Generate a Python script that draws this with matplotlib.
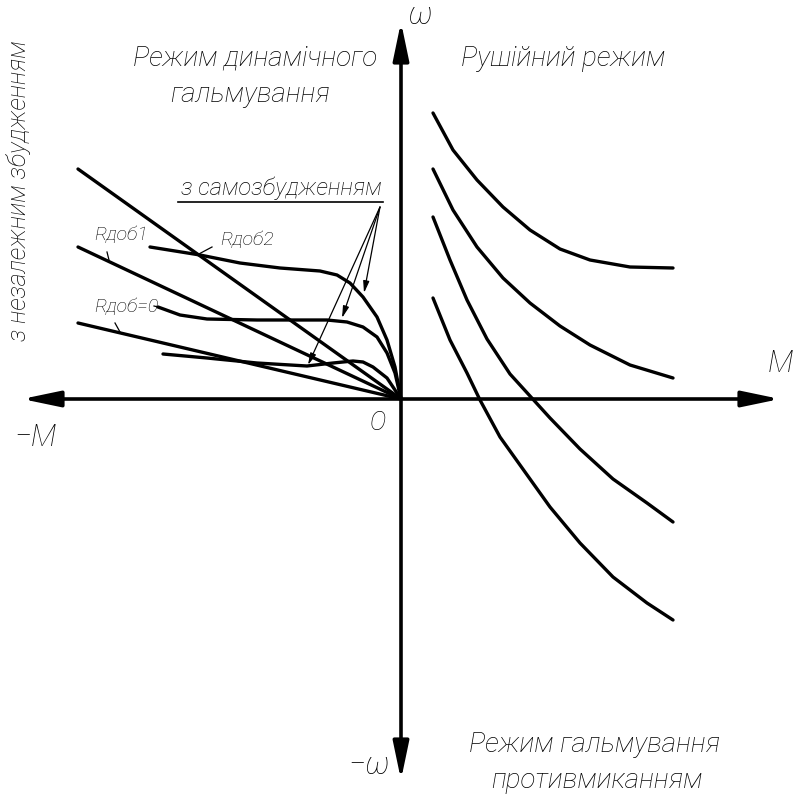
import matplotlib.pyplot as plt

plt.rcParams['font.family'] = ['Roboto', 'DejaVu Sans']
plt.rcParams['font.style'] = 'italic'
plt.rcParams['font.weight'] = 'light'

# Axis extents (torque M, speed omega) in drawing units
M_LEFT, M_RIGHT = -379, 379
W_TOP, W_BOTTOM = 377, -381

# Motor mode: four artificial characteristics
M_motor = [32, 52, 76, 102, 129, 159, 189, 229, 272]
w_motor_a = [286, 249, 219, 192, 169, 150, 139, 132, 131]
w_motor_b = [230, 189, 152, 121, 96, 73, 54, 34, 21]
M_motor_c = [32, 49, 66, 86, 109, 129, 149, 179, 212, 246, 272]
w_motor_c = [182, 139, 99, 60, 25, 3, -19, -50, -80, -104, -123]
M_motor_d = [32, 49, 66, 79, 99, 129, 149, 179, 212, 246, 272]
w_motor_d = [101, 59, 26, -1, -38, -80, -108, -144, -178, -204, -221]

# Dynamic braking, separate excitation: straight lines through origin
M_indep = [-323, 0]
w_indep_1 = [230, 0]
w_indep_2 = [152, 0]
w_indep_3 = [76, 0]

# Dynamic braking, self excitation
M_self_2 = [-251, -201, -161, -121, -81, -64, -51, -38, -24, -14, -6, 0]
w_self_2 = [152, 144, 136, 131, 128, 124, 116, 102, 82, 59, 32, 0]
M_self_0 = [-243, -221, -194, -144, -74, -54, -38, -24, -14, -6, 0]
w_self_0 = [92, 84, 80, 79, 79, 77, 72, 62, 46, 26, 0]
M_self_low = [-238, -194, -144, -94, -68, -48, -38, -28, -14, 0]
w_self_low = [45, 41, 36, 33, 36, 38, 37, 32, 21, 0]

# callout arrows: start under the label, tips on the self-excited curves
callout_start = (-21, 192)
callout_tips = [(-93, 34), (-59, 81), (-37, 106)]

fig = plt.figure(figsize=(7.95, 7.98), dpi=100)
ax = fig.add_axes([0, 0, 1, 1])
ax.set_xlim(-401, 394)
ax.set_ylim(-399, 399)
ax.axis('off')

# axes with arrows
head = '<|-|>,head_length=1.15,head_width=0.24'
ax.annotate('', xy=(M_RIGHT, 0), xytext=(M_LEFT, 0),
            arrowprops=dict(arrowstyle=head, lw=2.6, color='black',
                            mutation_scale=20, shrinkA=0, shrinkB=0))
ax.annotate('', xy=(0, W_TOP), xytext=(0, W_BOTTOM),
            arrowprops=dict(arrowstyle=head, lw=2.6, color='black',
                            mutation_scale=20, shrinkA=0, shrinkB=0))

kw = dict(color='black', lw=2.4, solid_capstyle='round', solid_joinstyle='round')
ax.plot(M_motor, w_motor_a, **kw)
ax.plot(M_motor, w_motor_b, **kw)
ax.plot(M_motor_c, w_motor_c, **kw)
ax.plot(M_motor_d, w_motor_d, **kw)

ax.plot(M_indep, w_indep_1, **kw)
ax.plot(M_indep, w_indep_2, **kw)
ax.plot(M_indep, w_indep_3, **kw)

ax.plot(M_self_2, w_self_2, **kw)
ax.plot(M_self_0, w_self_0, **kw)
ax.plot(M_self_low, w_self_low, **kw)

# leaders for resistance labels
thin = dict(color='black', lw=0.9)
ax.plot([-294, -292], [147, 139], **thin)
ax.plot([-286, -281], [76, 67], **thin)
ax.plot([-204, -189], [144, 152], **thin)
ax.plot([-247, -243], [93, 92], **thin)
ax.text(-307, 164, 'Rдоб1', fontsize=14, ha='left', va='center')
ax.text(-181, 159, 'Rдоб2', fontsize=14, ha='left', va='center')
ax.text(-307, 92, 'Rдоб=0', fontsize=14, ha='left', va='center')

# self-excitation callout
ax.text(-120, 211, 'з самозбудженням', fontsize=17, ha='center', va='center')
ax.plot([-223, -18], [197, 197], color='black', lw=1.2)
for tip in callout_tips:
    ax.annotate('', xy=tip, xytext=callout_start,
                arrowprops=dict(arrowstyle='-|>,head_length=0.7,head_width=0.18',
                                lw=0.9, color='black', mutation_scale=10,
                                shrinkA=0, shrinkB=0))

fs = 20
ax.text(-146, 341, 'Режим динамічного', fontsize=fs, ha='center', va='center')
ax.text(-151, 304, 'гальмування', fontsize=fs, ha='center', va='center')
ax.text(162, 341, 'Рушійний режим', fontsize=fs, ha='center', va='center')
ax.text(194, -346, 'Режим гальмування', fontsize=fs, ha='center', va='center')
ax.text(196, -381, 'противмиканням', fontsize=fs, ha='center', va='center')
ax.text(-382, 208, 'з незалежним збудженням', fontsize=18, ha='center',
        va='center', rotation=90)

ax.text(19, 384, 'ω', fontsize=22, ha='center', va='center')
ax.text(379, 36, 'M', fontsize=22, ha='center', va='center')
ax.text(-366, -39, '−M', fontsize=22, ha='center', va='center')
ax.text(-23, -24, 'O', fontsize=18, ha='center', va='center')
ax.text(-32, -366, '−ω', fontsize=22, ha='center', va='center')

fig.savefig('out.png', dpi=100)
